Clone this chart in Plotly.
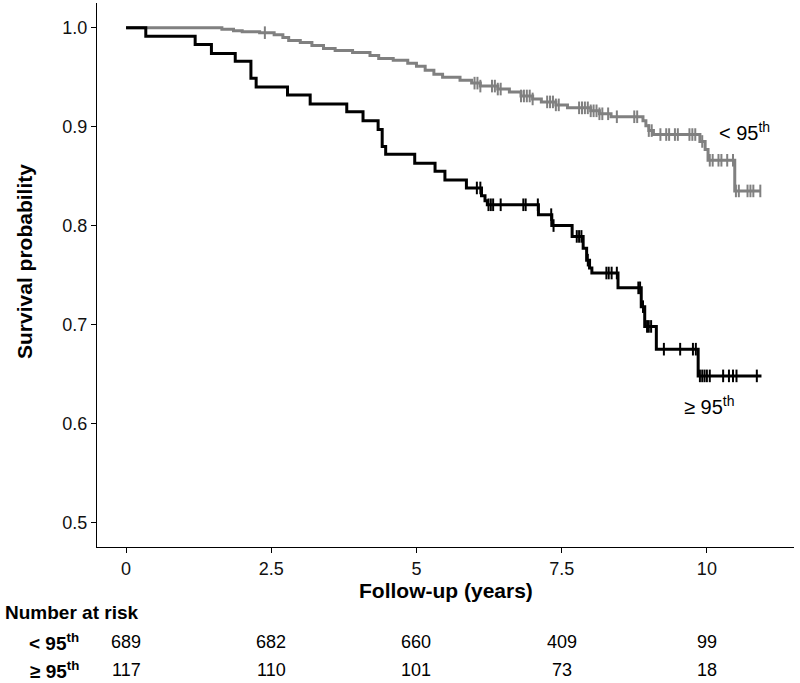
import numpy as np
import plotly.graph_objects as go

# ---------------- data ----------------
# < 95th group: step times and survival after each step
low_times = [0, 1.65, 1.85, 2.0, 2.3, 2.55, 2.7, 2.8, 3.0, 3.2, 3.4, 3.6, 3.9, 4.2, 4.35, 4.6,
             4.85, 5.0, 5.15, 5.3, 5.45, 5.75, 5.95, 6.1, 6.4, 6.6, 6.8, 7.0, 7.15, 7.4, 7.6,
             8.0, 8.15, 8.35, 8.9, 8.95, 9.0, 9.08, 9.88, 9.97, 10.02, 10.48, 10.92]
low_surv = [1.0, 0.9985, 0.997, 0.996, 0.995, 0.993, 0.990, 0.987, 0.985, 0.982, 0.979, 0.977,
            0.975, 0.972, 0.969, 0.967, 0.964, 0.961, 0.957, 0.953, 0.950, 0.947, 0.944, 0.941,
            0.938, 0.935, 0.931, 0.928, 0.925, 0.922, 0.919, 0.916, 0.913, 0.910, 0.906, 0.901,
            0.896, 0.892, 0.885, 0.877, 0.866, 0.835, 0.835]
low_censor = [2.39, 6.0, 6.05, 6.1, 6.3, 6.35, 6.4, 6.45, 6.8, 6.85, 6.9, 6.95, 7.0,
              7.25, 7.3, 7.35, 7.4, 7.45, 7.8, 7.85, 7.9, 7.95, 8.0, 8.05, 8.1, 8.15, 8.2,
              8.3, 8.45, 8.75, 8.8, 9.0, 9.05, 9.2, 9.3, 9.35, 9.45, 9.5, 9.7, 9.75, 9.8,
              9.92, 10.05, 10.1, 10.2, 10.25, 10.35, 10.45, 10.5, 10.55, 10.7, 10.75, 10.8, 10.92]

# >= 95th group
high_times = [0, 0.34, 1.19, 1.47, 1.88, 2.15, 2.24, 2.78, 3.17, 3.80, 4.08, 4.34, 4.41, 4.47,
              4.97, 5.32, 5.49, 5.86, 6.12, 6.18, 6.22, 7.10, 7.33, 7.68, 7.87, 7.93, 7.98,
              8.02, 8.47, 8.87, 8.93, 9.13, 9.85, 10.94]
high_surv = [1.0, 0.9915, 0.983, 0.974, 0.966, 0.949, 0.940, 0.932, 0.923, 0.915, 0.906, 0.897,
             0.880, 0.872, 0.863, 0.855, 0.846, 0.838, 0.830, 0.825, 0.821, 0.811, 0.800, 0.789,
             0.777, 0.765, 0.757, 0.752, 0.737, 0.718, 0.698, 0.675, 0.648, 0.648]
high_censor = [6.04, 6.1, 6.24, 6.28, 6.32, 6.45, 6.84, 6.88, 7.09, 7.32, 7.36, 7.76, 7.80,
               7.84, 7.95, 8.27, 8.31, 8.36, 8.45, 8.82, 8.85, 8.90, 8.97, 9.0, 9.04, 9.26,
               9.54, 9.76, 9.81, 9.88, 9.92, 9.96, 10.0, 10.05, 10.28, 10.38, 10.45, 10.51, 10.86]

risk_times = [0, 2.5, 5, 7.5, 10]
risk_low = [689, 682, 660, 409, 99]
risk_high = [117, 110, 101, 73, 18]

x_ticks = [0, 2.5, 5, 7.5, 10]
x_ticklabels = ["0", "2.5", "5", "7.5", "10"]
y_ticks = [0.5, 0.6, 0.7, 0.8, 0.9, 1.0]
y_ticklabels = ["0.5", "0.6", "0.7", "0.8", "0.9", "1.0"]

# ---------------- helpers ----------------
def surv_at(times, surv, t):
    idx = np.searchsorted(np.array(times), np.array(t), side="right") - 1
    return [surv[i] for i in idx]

GREY = "#808080"
BLACK = "#000000"
FONT = "Liberation Sans"

W, H = 800, 683
L, R, T, B = 97, 6, 3, 136
plot_h = H - T - B
plot_w = W - L - R

def py(pix_y):
    """pixel y (from top) -> paper y"""
    return (H - B - pix_y) / plot_h

def px(pix_x):
    return (pix_x - L) / plot_w

fig = go.Figure()

for times, surv, cens, col in [(low_times, low_surv, low_censor, GREY),
                               (high_times, high_surv, high_censor, BLACK)]:
    fig.add_trace(go.Scatter(x=times, y=surv, mode="lines", line=dict(color=col, width=3, shape="hv"),
                             showlegend=False, hoverinfo="skip"))
    fig.add_trace(go.Scatter(x=cens, y=surv_at(times, surv, cens), mode="markers",
                             marker=dict(symbol="line-ns", size=9, line=dict(color=col, width=2)),
                             showlegend=False, hoverinfo="skip"))

# curve labels
fig.add_annotation(x=10.18, y=0.895, xref="x", yref="y", text="&lt; 95<sup>th</sup>", showarrow=False,
                   xanchor="left", yanchor="middle", font=dict(family=FONT, size=20, color="#000"))
fig.add_annotation(x=9.58, y=0.618, xref="x", yref="y", text="≥ 95<sup>th</sup>", showarrow=False,
                   xanchor="left", yanchor="middle", font=dict(family=FONT, size=20, color="#000"))

# axis titles
fig.add_annotation(x=5.5, y=py(590), xref="x", yref="paper", text="Follow-up (years)", showarrow=False,
                   xanchor="center", yanchor="middle",
                   font=dict(family=FONT, size=21, color="#000", weight="bold"))
fig.add_annotation(x=px(24), y=py(262), xref="paper", yref="paper", text="Survival probability",
                   showarrow=False, textangle=-90, xanchor="center", yanchor="middle",
                   font=dict(family=FONT, size=21, color="#000", weight="bold"))

# risk table
fig.add_annotation(x=px(3), y=py(612), xref="paper", yref="paper", text="Number at risk",
                   showarrow=False, xanchor="left", yanchor="middle",
                   font=dict(family=FONT, size=19, color="#000", weight="bold"))
for lab, vals, ypix in [("&lt; 95<sup>th</sup>", risk_low, 642), ("≥ 95<sup>th</sup>", risk_high, 670)]:
    fig.add_annotation(x=px(81), y=py(ypix), xref="paper", yref="paper", text=lab,
                       showarrow=False, xanchor="right", yanchor="middle",
                       font=dict(family=FONT, size=19, color="#000", weight="bold"))
    for t, v in zip(risk_times, vals):
        fig.add_annotation(x=t, y=py(ypix), xref="x", yref="paper", text=str(v), showarrow=False,
                           xanchor="center", yanchor="middle",
                           font=dict(family=FONT, size=18, color="#000"))

fig.update_layout(
    width=W, height=H,
    margin=dict(l=L, r=R, t=T, b=B),
    plot_bgcolor="white", paper_bgcolor="white",
    font=dict(family=FONT, color="#000"),
    xaxis=dict(range=[-0.5, 11.5], tickvals=x_ticks, ticktext=x_ticklabels, showgrid=False,
               zeroline=False, showline=True, linecolor="#000", linewidth=1.3,
               ticks="outside", ticklen=5, tickwidth=1.3, tickcolor="#000",
               tickfont=dict(family=FONT, size=18, color="#111")),
    yaxis=dict(range=[0.475, 1.025], tickvals=y_ticks, ticktext=y_ticklabels, showgrid=False,
               zeroline=False, showline=True, linecolor="#000", linewidth=1.3,
               ticks="outside", ticklen=5, tickwidth=1.3, tickcolor="#000",
               tickfont=dict(family=FONT, size=18, color="#111")),
)

fig.write_html("out.html", config={"displayModeBar": False},
               post_script="document.body.style.margin='0px';document.body.style.overflow='hidden';")
